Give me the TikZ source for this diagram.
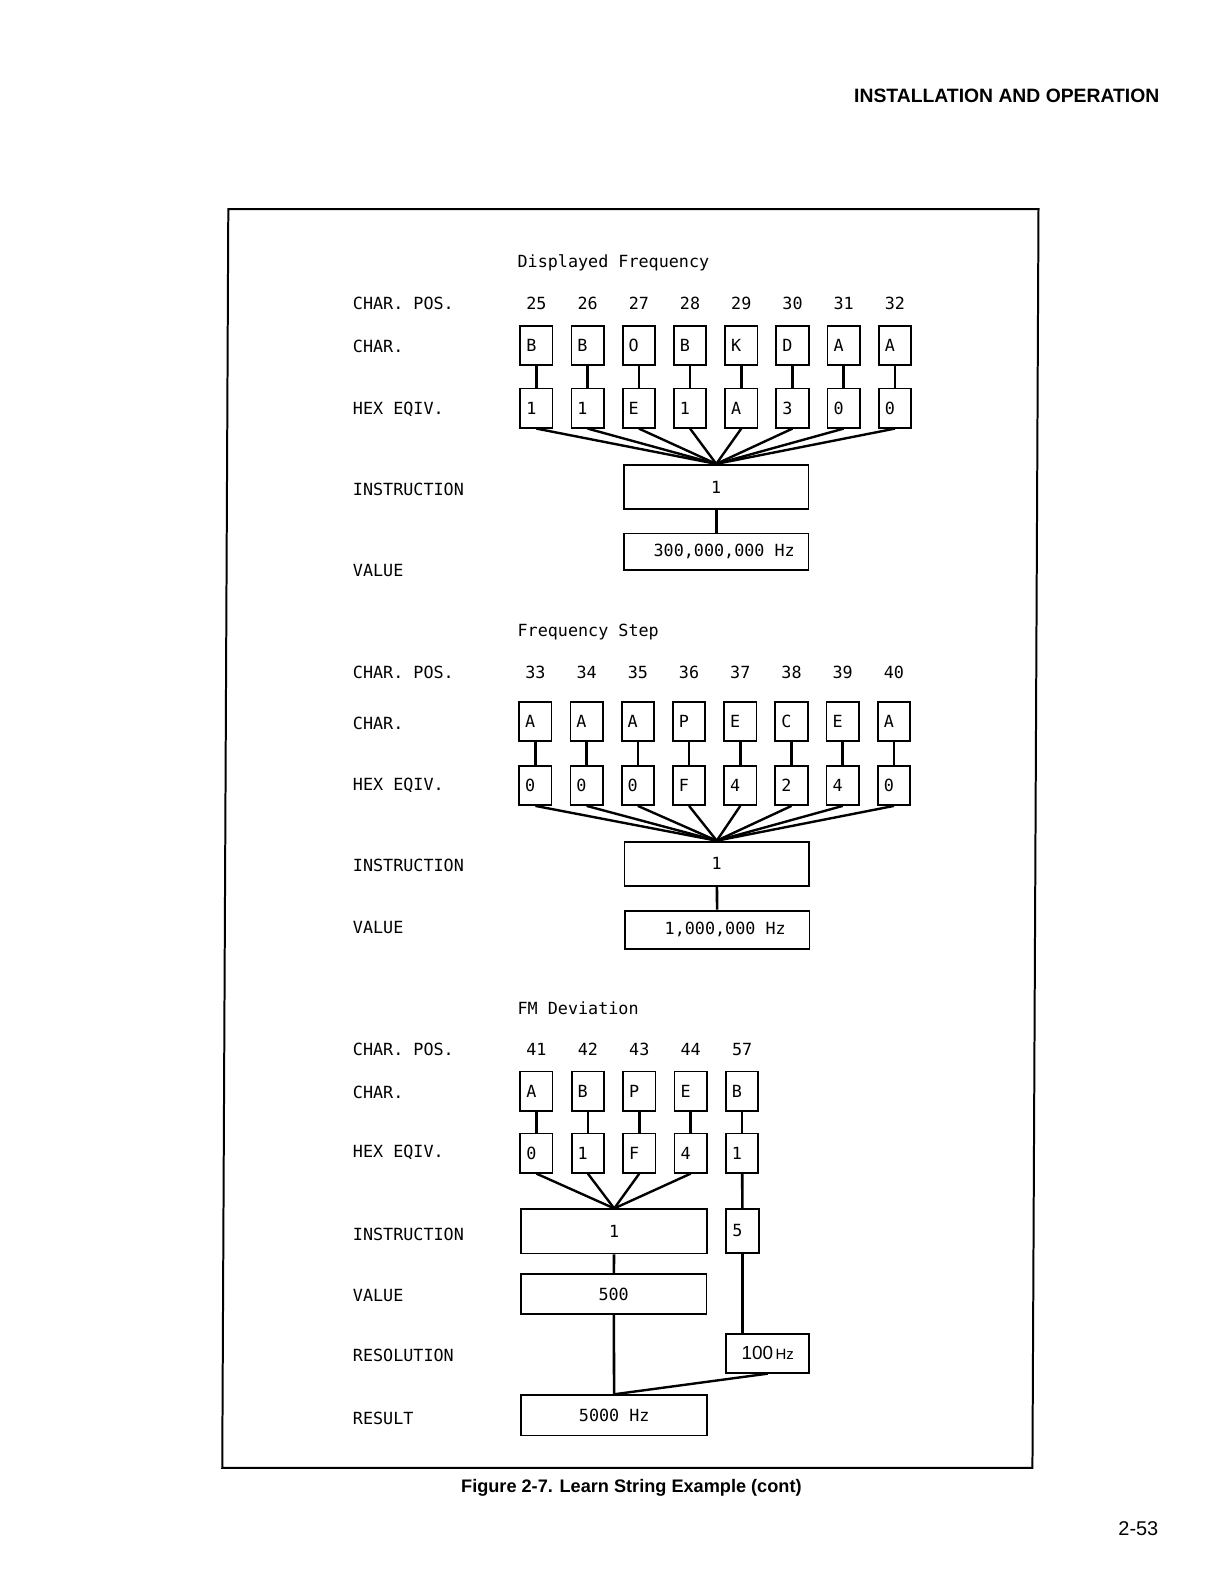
\documentclass[tikz,border=0pt]{standalone}
\usepackage{fontspec}
\setmainfont{Liberation Sans}
\setmonofont{DejaVu Sans Mono}
\newcommand{\pxu}{0.017813cm}

\begin{document}
\begin{tikzpicture}[
    x=\pxu, y=-\pxu,
    font=\fontsize{8.4}{10}\ttfamily,
    every node/.style={inner sep=0pt},
    rowlbl/.style={anchor=west},
    charbox/.style={draw, line width=0.9pt, minimum height=0.69cm,
        inner xsep=3pt, text width=10.2pt, align=left},
    insbox/.style={draw, line width=0.9pt, minimum width=3.25cm, minimum height=0.78cm},
    valbox/.style={draw, line width=0.9pt, minimum width=3.25cm, minimum height=0.68cm},
    link/.style={line width=1.3pt},
    fan/.style={line width=1.2pt}
]
\useasboundingbox (0,0) rectangle (1212,1568);

% Page header, frame and caption
\node[anchor=east, font=\fontsize{9.7}{12}\selectfont\rmfamily\bfseries] (head) at (1148,95) {INSTALLATION AND OPERATION};
\draw[line width=1pt] (226,207) -- (1028,207) -- (1022,1453) -- (220,1453) -- cycle;
\node[font=\fontsize{9.1}{11}\selectfont\rmfamily\bfseries] (caption) at (625,1473) {Figure 2-7. Learn String Example (cont)};
\node[anchor=east, font=\fontsize{10}{12}\selectfont\rmfamily] (pageno) at (1147,1513) {2-53};

% Displayed Frequency
\node[anchor=west] (dftitle) at (512,260) {Displayed Frequency};
\node[rowlbl] (dfpos) at (349,300) {CHAR. POS.};
\node[rowlbl] (dfchr) at (349,343) {CHAR.};
\node[rowlbl] (dfhex) at (349,405) {HEX EQIV.};
\node[rowlbl] (dfins) at (349,484) {INSTRUCTION};
\node[rowlbl] (dfval) at (349,565) {VALUE};

\node[insbox] (dfi) at (709,482) {1};
\node[valbox, minimum height=0.64cm] (dfv) at (709,546) {\hspace*{8pt}300,000,000 Hz};
\draw[link] (dfi) -- (dfv);
\foreach \ch/\hx [count=\k] in {B/1, B/1, O/E, B/1, K/A, D/3, A/0, A/0} {
    \pgfmathsetmacro\xx{531+50.7*(\k-1)}
    \pgfmathtruncatemacro\pos{24+\k}
    \node (dfn\k) at (\xx,300) {\pos};
    \node[charbox] (dfc\k) at (\xx,342) {\ch};
    \node[charbox] (dfh\k) at (\xx,404) {\hx};
    \draw[link] (dfc\k) -- (dfh\k);
    \draw[fan] (dfh\k.south) -- (dfi.north);
}

% Frequency Step
\node[anchor=west] (fstitle) at (512,626) {Frequency Step};
\node[rowlbl] (fspos) at (349,666) {CHAR. POS.};
\node[rowlbl] (fschr) at (349,716) {CHAR.};
\node[rowlbl] (fshex) at (349,777) {HEX EQIV.};
\node[rowlbl] (fsins) at (349,857) {INSTRUCTION};
\node[rowlbl] (fsval) at (349,918) {VALUE};

\node[insbox] (fsi) at (709.5,855) {1};
\node[valbox] (fsv) at (710,920.5) {\hspace*{8pt}1,000,000 Hz};
\draw[link] (fsi) -- (fsv);
\foreach \ch/\hx [count=\k] in {A/0, A/0, A/0, P/F, E/4, C/2, E/4, A/0} {
    \pgfmathsetmacro\xx{530+50.7*(\k-1)}
    \pgfmathtruncatemacro\pos{32+\k}
    \node (fsn\k) at (\xx,666) {\pos};
    \node[charbox] (fsc\k) at (\xx,714) {\ch};
    \node[charbox] (fsh\k) at (\xx,777.5) {\hx};
    \draw[link] (fsc\k) -- (fsh\k);
    \draw[fan] (fsh\k.south) -- (fsi.north);
}

% FM Deviation
\node[anchor=west] (fmtitle) at (512,998) {FM Deviation};
\node[rowlbl] (fmpos) at (349,1039) {CHAR. POS.};
\node[rowlbl] (fmchr) at (349,1081) {CHAR.};
\node[rowlbl] (fmhex) at (349,1141) {HEX EQIV.};
\node[rowlbl] (fmins) at (349,1222) {INSTRUCTION};
\node[rowlbl] (fmval) at (349,1282) {VALUE};
\node[rowlbl] (fmres) at (349,1342) {RESOLUTION};
\node[rowlbl] (fmout) at (349,1404) {RESULT};

\node[insbox, minimum width=3.28cm] (fmi) at (608,1219) {1};
\node[valbox, minimum width=3.27cm, minimum height=0.71cm] (fmv) at (607.5,1281) {500};
\node[charbox, minimum height=0.77cm] (five) at (735,1218.5) {5};
\node[draw, line width=0.9pt, minimum width=1.46cm, minimum height=0.69cm] (hz) at (760,1339.5)
    {{\rmfamily\fontsize{9.5}{11}\selectfont 100}{\rmfamily\fontsize{7.5}{9}\selectfont\,Hz}};
\node[valbox, minimum width=3.28cm, minimum height=0.71cm] (fmr) at (608,1401) {5000 Hz};
\foreach \ch/\hx/\pos [count=\k] in {A/0/41, B/1/42, P/F/43, E/4/44, B/1/57} {
    \pgfmathsetmacro\xx{531+50.9*(\k-1)}
    \node (fmn\k) at (\xx,1039) {\pos};
    \node[charbox] (fmc\k) at (\xx,1080) {\ch};
    \node[charbox] (fmh\k) at (\xx,1141.5) {\hx};
    \draw[link] (fmc\k) -- (fmh\k);
    \ifnum\k<5 \draw[fan] (fmh\k.south) -- (fmi.north); \fi
}
\draw[link] (fmh5) -- (five);
\draw[link] (five) -- (five |- hz.north);
\draw[link] (fmi) -- (fmv);
\draw[link] (fmv) -- (fmr);
\draw[fan] (hz.south) -- (fmr.north);

\end{tikzpicture}
\end{document}
